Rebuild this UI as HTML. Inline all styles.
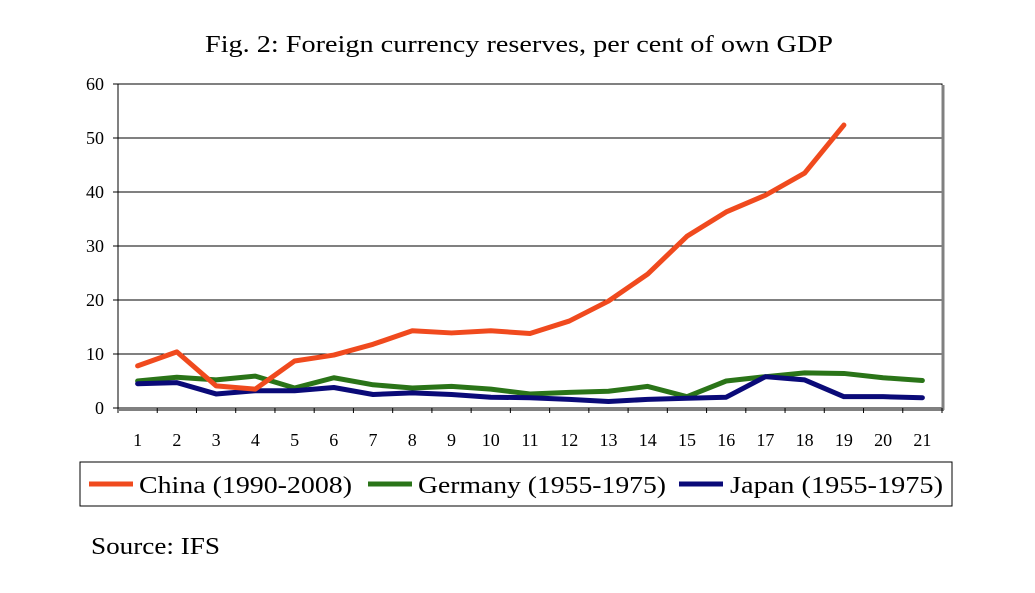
<!DOCTYPE html>
<html><head><meta charset="utf-8"><style>
body{margin:0;background:#fff;width:1035px;height:588px;overflow:hidden;font-family:"Liberation Serif",serif}
</style></head><body>
<svg width="1035" height="588" font-family="Liberation Serif, serif">
<text x="205" y="52" font-size="24" textLength="628" lengthAdjust="spacingAndGlyphs">Fig. 2: Foreign currency reserves, per cent of own GDP</text>
<g id="grid"></g>
<rect x="118" y="84" width="824" height="324" fill="none" stroke="#000" stroke-width="1"/>
<line x1="943" y1="85" x2="943" y2="410" stroke="#808080" stroke-width="3"/>
<line x1="119" y1="409.5" x2="944" y2="409.5" stroke="#808080" stroke-width="3"/>
<g id="axes"></g>
<g id="series"></g>
<rect x="80" y="462" width="872" height="44" fill="#fff" stroke="#000"/>
<g><line x1="89" y1="484" x2="133" y2="484" stroke="#f04a1e" stroke-width="5"/><text x="139" y="493" font-size="24" textLength="213" lengthAdjust="spacingAndGlyphs">China (1990-2008)</text></g>
<g><line x1="368" y1="484" x2="412" y2="484" stroke="#2a7418" stroke-width="5"/><text x="418" y="493" font-size="24" textLength="248" lengthAdjust="spacingAndGlyphs">Germany (1955-1975)</text></g>
<g><line x1="679" y1="484" x2="723" y2="484" stroke="#0a0a78" stroke-width="5"/><text x="730" y="493" font-size="24" textLength="213" lengthAdjust="spacingAndGlyphs">Japan (1955-1975)</text></g>
<text x="91" y="554" font-size="24" textLength="129" lengthAdjust="spacingAndGlyphs">Source: IFS</text>
</svg>
<script>
const categories=[1,2,3,4,5,6,7,8,9,10,11,12,13,14,15,16,17,18,19,20,21];
const yTicks=[0,10,20,30,40,50,60];
const china=[7.8,10.4,4.1,3.5,8.7,9.8,11.8,14.3,13.9,14.3,13.8,16.1,19.8,24.8,31.8,36.3,39.4,43.5,52.4];
const germany=[5,5.7,5.2,5.9,3.7,5.6,4.3,3.7,4,3.5,2.6,2.9,3.1,4,2.1,5,5.8,6.5,6.4,5.6,5.1];
const japan=[4.5,4.7,2.6,3.2,3.2,3.8,2.5,2.8,2.5,2,1.9,1.6,1.2,1.6,1.8,2,5.8,5.2,2.1,2.1,1.9];
const NS='http://www.w3.org/2000/svg';
const L=118,R=942,T=84,B=408,bw=(R-L)/categories.length;
const x=i=>L+bw*(i+0.5);
const y=v=>B-(v-0)/(60-0)*(B-T);
function mk(tag,a,p){const e=document.createElementNS(NS,tag);for(const k in a)e.setAttribute(k,a[k]);p.appendChild(e);return e;}
const grid=document.getElementById('grid'),axes=document.getElementById('axes'),ser=document.getElementById('series');
yTicks.forEach(v=>{
  if(v>0&&v<60){const g=mk('line',{x1:L,x2:R,y1:y(v),y2:y(v),stroke:'#000','stroke-width':1},grid);
  
  }
  mk('line',{x1:L-5,x2:L,y1:y(v),y2:y(v),stroke:'#000'},axes);
  const t=mk('text',{x:L-14,y:y(v)+6,'text-anchor':'end','font-size':18},axes);t.textContent=v;
  
  
});
categories.forEach((c,i)=>{
  mk('line',{x1:L+bw*i,x2:L+bw*i,y1:B,y2:B+5,stroke:'#000'},axes);
  const t=mk('text',{x:x(i),y:B+38,'text-anchor':'middle','font-size':18},axes);t.textContent=c;
  
  
});
mk('line',{x1:R,x2:R,y1:B,y2:B+5,stroke:'#000'},axes);
[[germany,'#2a7418','germany'],[japan,'#0a0a78','japan'],[china,'#f04a1e','china']].forEach(([d,c,n])=>{
  const p=mk('polyline',{points:d.map((v,i)=>x(i)+','+y(v)).join(' '),fill:'none',stroke:c,'stroke-width':5,'stroke-linejoin':'round','stroke-linecap':'round'},ser);
  
  
});
</script>
</body></html>
